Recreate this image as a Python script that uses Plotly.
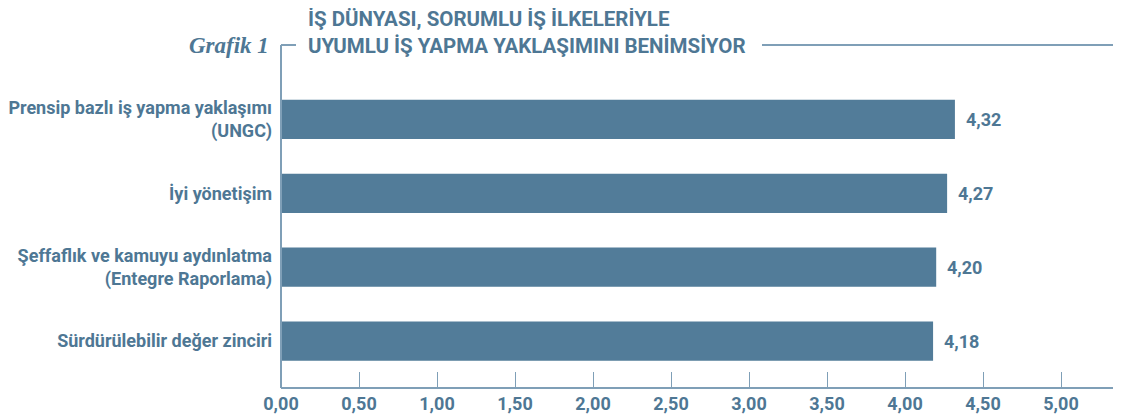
import plotly.graph_objects as go

categories = [
    "Prensip bazlı iş yapma yaklaşımı<br>(UNGC)",
    "İyi yönetişim",
    "Şeffaflık ve kamuyu aydınlatma<br>(Entegre Raporlama)",
    "Sürdürülebilir değer zinciri",
]
values = [4.32, 4.27, 4.20, 4.18]
tick_vals = [0, 0.5, 1, 1.5, 2, 2.5, 3, 3.5, 4, 4.5, 5]
title_line1 = "İŞ DÜNYASI, SORUMLU İŞ İLKELERİYLE"
title_line2 = "UYUMLU İŞ YAPMA YAKLAŞIMINI BENİMSİYOR"
grafik_label = "Grafik 1"

BAR = "#527c99"
TXT = "#4e7794"
FRAME = "#7f9fb7"
FONT = "Roboto"

W, H = 1121, 415
OFF = 8  # page body margin
# plot area in window pixels: x 281..1118, y 45..388
L = 281 - OFF
T = 45 - OFF
R = W - (1118 - OFF)
B = H - (388 - OFF)
pw = W - L - R
ph = H - T - B

def px(x):
    return (x - OFF - L) / pw

def py(y):
    return (H - B - (y - OFF)) / ph

ypos = list(range(len(categories)))

fig = go.Figure(go.Bar(
    x=values,
    y=ypos,
    orientation="h",
    marker=dict(color=BAR, line=dict(width=0)),
    width=0.53,
    hoverinfo="skip",
))

for v, yi in zip(values, ypos):
    fig.add_annotation(
        x=v, y=yi, xref="x", yref="y",
        text=f"{v:.2f}".replace(".", ","),
        xanchor="left", yanchor="middle", xshift=9, showarrow=False,
        font=dict(family=FONT, size=18, color=TXT, weight="bold"),
    )

fig.update_layout(
    width=W, height=H,
    margin=dict(l=L, r=R, t=T, b=B, autoexpand=False),
    paper_bgcolor="white",
    plot_bgcolor="white",
    separators=",.",
    showlegend=False,
    xaxis=dict(
        range=[0, pw / 156.0],
        tickvals=tick_vals,
        tickformat=".2f",
        ticks="inside",
        ticklen=16,
        tickcolor=FRAME,
        tickwidth=1.2,
        showgrid=False,
        zeroline=False,
        showline=False,
        automargin=False,
        ticklabelstandoff=3,
        tickfont=dict(family=FONT, size=18, color=TXT, weight="bold"),
        fixedrange=True,
    ),
    yaxis=dict(
        range=[3.635, -1.007],
        tickvals=ypos,
        ticktext=categories,
        showgrid=False,
        zeroline=False,
        showline=False,
        automargin=False,
        ticks="",
        ticklabelstandoff=8,
        tickfont=dict(family=FONT, size=18, color=TXT, weight="bold"),
        fixedrange=True,
    ),
)

line = dict(color=FRAME, width=2)
shapes = [
    dict(type="line", xref="paper", yref="paper", x0=0, x1=0, y0=0, y1=1, line=line),
    dict(type="line", xref="paper", yref="paper", x0=1, x1=1, y0=0, y1=1, line=line),
    dict(type="line", xref="paper", yref="paper", x0=0, x1=1, y0=0, y1=0, line=line),
    dict(type="line", xref="paper", yref="paper", x0=0, x1=px(296), y0=1, y1=1, line=line),
    dict(type="line", xref="paper", yref="paper", x0=px(762), x1=1, y0=1, y1=1, line=line),
]
fig.update_layout(shapes=shapes)

fig.add_annotation(
    text=title_line1, xref="paper", yref="paper", x=px(306), y=py(19),
    xanchor="left", yanchor="middle", showarrow=False,
    font=dict(family=FONT, size=20.5, color=TXT, weight="bold"),
)
fig.add_annotation(
    text=title_line2, xref="paper", yref="paper", x=px(306), y=py(46),
    xanchor="left", yanchor="middle", showarrow=False,
    font=dict(family=FONT, size=20.5, color=TXT, weight="bold"),
)
fig.add_annotation(
    text="<b><i>" + grafik_label + "</i></b>", xref="paper", yref="paper", x=px(271), y=py(46),
    xanchor="right", yanchor="middle", showarrow=False,
    font=dict(family="Liberation Serif", size=23, color=TXT),
)

fig.write_html("out.html")
